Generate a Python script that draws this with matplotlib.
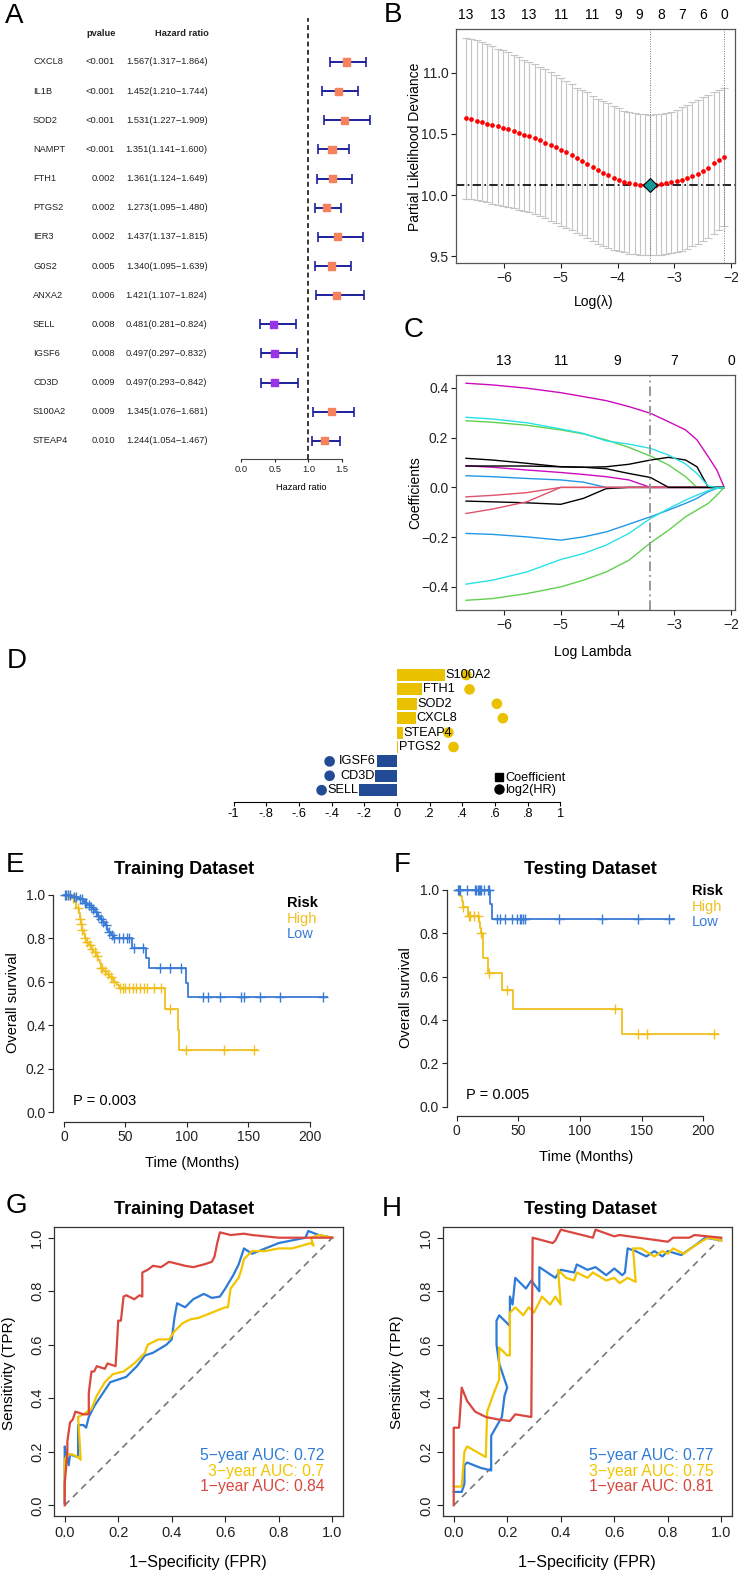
import numpy as np
import matplotlib
matplotlib.use("Agg")
import matplotlib.pyplot as plt
import matplotlib.transforms as mtransforms
from matplotlib.lines import Line2D

W, H = 738, 1574
plt.rcParams['font.family'] = ['Liberation Sans', 'DejaVu Sans']

# ---------------- data ----------------
# A: univariate cox
genes_a = ['CXCL8', 'IL1B', 'SOD2', 'NAMPT', 'FTH1', 'PTGS2', 'IER3', 'G0S2', 'ANXA2',
           'SELL', 'IGSF6', 'CD3D', 'S100A2', 'STEAP4']
pvals_a = ['<0.001', '<0.001', '<0.001', '<0.001', '0.002', '0.002', '0.002', '0.005',
           '0.006', '0.008', '0.008', '0.009', '0.009', '0.010']
hr_a = [1.567, 1.452, 1.531, 1.351, 1.361, 1.273, 1.437, 1.340, 1.421, 0.481, 0.497, 0.497, 1.345, 1.244]
hr_lo = [1.317, 1.210, 1.227, 1.141, 1.124, 1.095, 1.137, 1.095, 1.107, 0.281, 0.297, 0.293, 1.076, 1.054]
hr_hi = [1.864, 1.744, 1.909, 1.600, 1.649, 1.480, 1.815, 1.639, 1.824, 0.824, 0.832, 0.842, 1.681, 1.467]

# B: cv curve
log_lam = [-6.67, -6.58, -6.48, -6.39, -6.30, -6.21, -6.11, -6.02, -5.93, -5.83,
           -5.74, -5.65, -5.56, -5.46, -5.37, -5.28, -5.18, -5.09, -5.00, -4.91,
           -4.81, -4.72, -4.63, -4.53, -4.44, -4.35, -4.26, -4.16, -4.07, -3.98,
           -3.88, -3.79, -3.70, -3.61, -3.51, -3.42, -3.33, -3.23, -3.14, -3.05,
           -2.95, -2.86, -2.77, -2.68, -2.58, -2.49, -2.40, -2.30, -2.21, -2.12]
cv_mean = [10.63, 10.62, 10.61, 10.60, 10.585, 10.575, 10.565, 10.55, 10.54, 10.525,
           10.51, 10.495, 10.48, 10.465, 10.447, 10.43, 10.41, 10.39, 10.37, 10.35,
           10.33, 10.305, 10.28, 10.255, 10.23, 10.205, 10.18, 10.16, 10.14, 10.12,
           10.105, 10.095, 10.088, 10.083, 10.08, 10.079, 10.081, 10.087, 10.095, 10.105,
           10.115, 10.127, 10.14, 10.155, 10.172, 10.195, 10.225, 10.26, 10.29, 10.315]
cv_up = [11.29, 11.28, 11.27, 11.25, 11.24, 11.22, 11.20, 11.19, 11.17, 11.15,
         11.13, 11.11, 11.09, 11.07, 11.05, 11.03, 11.01, 10.98, 10.96, 10.93,
         10.91, 10.88, 10.86, 10.84, 10.81, 10.79, 10.77, 10.75, 10.73, 10.71,
         10.69, 10.68, 10.67, 10.66, 10.66, 10.656, 10.66, 10.66, 10.67, 10.68,
         10.70, 10.72, 10.74, 10.76, 10.78, 10.80, 10.82, 10.84, 10.86, 10.88]
cv_lo = [9.97, 9.965, 9.96, 9.95, 9.94, 9.93, 9.92, 9.91, 9.90, 9.89,
         9.88, 9.87, 9.86, 9.845, 9.83, 9.81, 9.79, 9.77, 9.75, 9.73,
         9.71, 9.69, 9.67, 9.65, 9.62, 9.60, 9.58, 9.565, 9.55, 9.54,
         9.53, 9.52, 9.515, 9.51, 9.507, 9.505, 9.507, 9.51, 9.515, 9.522,
         9.53, 9.545, 9.56, 9.58, 9.60, 9.62, 9.65, 9.68, 9.71, 9.745]
lam_min = -3.42
lam_1se = -2.12
b_top_pos = [-6.67, -6.11, -5.56, -5.00, -4.44, -3.98, -3.61, -3.23, -2.86, -2.49, -2.12]
b_top_lab = ['13', '13', '13', '11', '11', '9', '9', '8', '7', '6', '0']

# C: coefficient paths (shared log-lambda grid)
c_grid = [-6.67, -6.2, -5.6, -5.0, -4.6, -4.2, -3.8, -3.42, -3.1, -2.8, -2.6, -2.4, -2.25, -2.12]
path_magenta1 = [0.419, 0.412, 0.399, 0.381, 0.365, 0.349, 0.325, 0.298, 0.264, 0.231, 0.191, 0.123, 0.070, 0.0]
path_cyan1 = [0.282, 0.275, 0.260, 0.235, 0.217, 0.187, 0.174, 0.157, 0.130, 0.094, 0.056, 0.005, 0.0, 0.0]
path_green1 = [0.268, 0.262, 0.250, 0.231, 0.215, 0.191, 0.161, 0.126, 0.090, 0.043, 0.0, 0.0, 0.0, 0.0]
path_black1 = [0.117, 0.110, 0.097, 0.083, 0.081, 0.083, 0.093, 0.110, 0.121, 0.110, 0.083, 0.0, 0.0, 0.0]
path_black2 = [0.086, 0.086, 0.086, 0.083, 0.081, 0.075, 0.056, 0.040, 0.0, 0.0, 0.0, 0.0, 0.0, 0.0]
path_magenta2 = [0.087, 0.081, 0.070, 0.060, 0.052, 0.043, 0.030, 0.0, 0.0, 0.0, 0.0, 0.0, 0.0, 0.0]
path_blue1 = [0.047, 0.043, 0.036, 0.030, 0.021, 0.0, 0.0, 0.0, 0.0, 0.0, 0.0, 0.0, 0.0, 0.0]
path_red1 = [-0.038, -0.032, -0.021, 0.0, 0.0, 0.0, 0.0, 0.0, 0.0, 0.0, 0.0, 0.0, 0.0, 0.0]
path_red2 = [-0.105, -0.087, -0.058, 0.0, 0.0, 0.0, 0.0, 0.0, 0.0, 0.0, 0.0, 0.0, 0.0, 0.0]
path_black3 = [-0.055, -0.058, -0.062, -0.068, -0.044, -0.005, 0.0, 0.0, 0.0, 0.0, 0.0, 0.0, 0.0, 0.0]
path_blue2 = [-0.185, -0.189, -0.199, -0.212, -0.199, -0.179, -0.148, -0.118, -0.091, -0.064, -0.044, -0.017, -0.004, 0.0]
path_cyan2 = [-0.389, -0.373, -0.340, -0.290, -0.266, -0.232, -0.185, -0.125, -0.085, -0.051, -0.031, -0.013, -0.004, 0.0]
path_green2 = [-0.454, -0.447, -0.427, -0.400, -0.373, -0.340, -0.293, -0.223, -0.172, -0.118, -0.091, -0.064, -0.031, 0.0]
c_top_pos = [-6, -5, -4, -3, -2]
c_top_lab = ['13', '11', '9', '7', '0']

# D: coefficients vs log2(HR)
d_genes = ['S100A2', 'FTH1', 'SOD2', 'CXCL8', 'STEAP4', 'PTGS2', 'IGSF6', 'CD3D', 'SELL']
d_coef = [0.294, 0.156, 0.124, 0.115, 0.037, 0.009, -0.124, -0.133, -0.231]
d_log2hr = [0.424, 0.444, 0.611, 0.648, 0.314, 0.346, -0.412, -0.412, -0.461]
d_ticks = [-1, -0.8, -0.6, -0.4, -0.2, 0, 0.2, 0.4, 0.6, 0.8, 1]
d_ticklabels = ['-1', '-.8', '-.6', '-.4', '-.2', '0', '.2', '.4', '.6', '.8', '1']

# E/F: Kaplan-Meier (event times, survival after event, censor times)
tr_high_t = [5, 8, 10, 12, 13, 14, 15, 16, 17, 18, 20, 22, 24, 26, 28, 29, 30, 32, 34, 37, 40, 43, 45, 82, 93, 94]
tr_high_s = [0.985, 0.97, 0.94, 0.915, 0.89, 0.865, 0.84, 0.82, 0.80, 0.785, 0.77, 0.75, 0.735, 0.72,
             0.70, 0.685, 0.665, 0.65, 0.635, 0.62, 0.60, 0.585, 0.57, 0.475, 0.38, 0.285]
tr_high_c = [3, 7, 11, 13, 14, 15, 17, 19, 21, 23, 25, 27, 30, 31, 33, 36, 38, 41, 46, 48, 50, 53,
             56, 59, 62, 65, 68, 73, 79, 86, 99, 130, 155]
tr_high_end = 157
tr_low_t = [6, 12, 16, 19, 21, 23, 25, 27, 29, 31, 33, 35, 36, 38, 40, 55, 67, 69, 99, 101]
tr_low_s = [0.99, 0.98, 0.965, 0.955, 0.945, 0.935, 0.92, 0.905, 0.89, 0.875, 0.86, 0.845, 0.83,
            0.815, 0.80, 0.755, 0.71, 0.663, 0.594, 0.529]
tr_low_c = [1, 2, 3, 5, 8, 10, 13, 15, 17, 18, 20, 22, 24, 26, 28, 30, 32, 34, 37, 39, 41, 45, 48,
            51, 53, 57, 64, 78, 86, 95, 113, 117, 127, 144, 147, 160, 176, 211]
tr_low_end = 214
te_high_t = [3, 4, 5, 9, 18, 19, 20, 21, 25, 37, 46, 134]
te_high_s = [0.97, 0.95, 0.92, 0.88, 0.85, 0.823, 0.80, 0.688, 0.618, 0.54, 0.449, 0.337]
te_high_c = [2, 5, 10, 11, 14, 17, 20, 26, 41, 128, 147, 154, 209]
te_high_end = 212
te_low_t = [27, 29]
te_low_s = [0.933, 0.866]
te_low_c = [1, 2, 3, 8, 15, 16, 17, 18, 19, 20, 22, 25, 26, 33, 35, 39, 45, 49, 51, 52, 54, 55,
            83, 118, 147, 172]
te_low_end = 176

# G/H: ROC curves
roc_tr5_fpr = [0, 0, 0.005, 0.015, 0.02, 0.05, 0.05, 0.07, 0.08, 0.09, 0.11, 0.13, 0.15, 0.17, 0.2,
               0.23, 0.27, 0.3, 0.33, 0.38, 0.4, 0.41, 0.42, 0.45, 0.48, 0.52, 0.55, 0.58, 0.6, 0.63,
               0.65, 0.67, 0.7, 0.75, 0.8, 0.85, 0.9, 0.91, 0.95, 1.0]
roc_tr5_tpr = [0.01, 0.22, 0.2, 0.15, 0.19, 0.18, 0.3, 0.3, 0.29, 0.33, 0.37, 0.4, 0.43, 0.46, 0.47,
               0.48, 0.52, 0.56, 0.57, 0.6, 0.62, 0.7, 0.755, 0.74, 0.77, 0.79, 0.775, 0.78, 0.81, 0.86,
               0.9, 0.96, 0.94, 0.96, 0.98, 0.99, 1.0, 1.025, 1.01, 1.0]
roc_tr3_fpr = [0, 0, 0.01, 0.03, 0.05, 0.06, 0.05, 0.07, 0.1, 0.12, 0.15, 0.18, 0.22, 0.26, 0.29,
               0.3, 0.31, 0.35, 0.39, 0.41, 0.44, 0.47, 0.5, 0.55, 0.6, 0.61, 0.62, 0.65, 0.66, 0.67,
               0.7, 0.75, 0.8, 0.85, 0.92, 0.93, 0.92, 0.95, 1.0]
roc_tr3_tpr = [0.02, 0.17, 0.19, 0.19, 0.18, 0.17, 0.33, 0.34, 0.36, 0.41, 0.46, 0.49, 0.5, 0.53, 0.56,
               0.57, 0.6, 0.62, 0.62, 0.65, 0.68, 0.695, 0.7, 0.72, 0.74, 0.74, 0.81, 0.85, 0.88, 0.92,
               0.95, 0.95, 0.96, 0.96, 0.98, 0.97, 1.0, 1.01, 1.0]
roc_tr1_fpr = [0, 0, 0.01, 0.01, 0.02, 0.03, 0.04, 0.07, 0.09, 0.09, 0.1, 0.11, 0.12, 0.15, 0.16,
               0.19, 0.195, 0.2, 0.21, 0.22, 0.23, 0.26, 0.28, 0.29, 0.29, 0.31, 0.33, 0.36, 0.39, 0.45,
               0.48, 0.52, 0.55, 0.56, 0.57, 0.58, 0.62, 0.67, 0.7, 0.8, 0.9, 1.0]
roc_tr1_tpr = [0, 0.08, 0.2, 0.24, 0.31, 0.32, 0.35, 0.34, 0.34, 0.42, 0.5, 0.5, 0.52, 0.51, 0.53,
               0.52, 0.6, 0.69, 0.69, 0.78, 0.785, 0.77, 0.785, 0.78, 0.87, 0.88, 0.895, 0.89, 0.91, 0.895,
               0.89, 0.9, 0.91, 0.93, 0.98, 1.02, 1.01, 1.015, 1.01, 1.0, 1.0, 1.0]
roc_te5_fpr = [0, 0.03, 0.04, 0.04, 0.05, 0.1, 0.14, 0.14, 0.18, 0.19, 0.2, 0.19, 0.17, 0.16, 0.16,
               0.17, 0.21, 0.21, 0.22, 0.23, 0.27, 0.29, 0.32, 0.32, 0.38, 0.4, 0.45, 0.46, 0.5, 0.53,
               0.57, 0.6, 0.63, 0.64, 0.65, 0.68, 0.72, 0.75, 0.78, 0.8, 0.85, 0.9, 0.94, 1.0]
roc_te5_tpr = [0.05, 0.05, 0.08, 0.15, 0.16, 0.14, 0.13, 0.26, 0.33, 0.41, 0.44, 0.47, 0.53, 0.6, 0.69,
               0.71, 0.67, 0.78, 0.75, 0.85, 0.81, 0.84, 0.8, 0.89, 0.85, 0.88, 0.87, 0.9, 0.88, 0.89,
               0.86, 0.885, 0.86, 0.87, 0.96, 0.95, 0.93, 0.95, 0.93, 0.95, 0.935, 0.97, 1.0, 0.99]
roc_te3_fpr = [0, 0.03, 0.04, 0.05, 0.12, 0.125, 0.15, 0.17, 0.17, 0.2, 0.21, 0.21, 0.23, 0.26, 0.28,
               0.3, 0.33, 0.36, 0.38, 0.4, 0.39, 0.42, 0.45, 0.46, 0.5, 0.52, 0.57, 0.6, 0.62, 0.65,
               0.68, 0.67, 0.7, 0.75, 0.78, 0.8, 0.82, 0.86, 0.9, 0.95, 1.0]
roc_te3_tpr = [0.07, 0.07, 0.2, 0.22, 0.18, 0.35, 0.42, 0.47, 0.59, 0.56, 0.56, 0.72, 0.74, 0.71, 0.74,
               0.72, 0.78, 0.75, 0.78, 0.75, 0.88, 0.85, 0.84, 0.87, 0.85, 0.87, 0.84, 0.85, 0.83, 0.85,
               0.835, 0.96, 0.96, 0.93, 0.95, 0.94, 0.96, 0.94, 0.97, 1.0, 0.99]
roc_te1_fpr = [0, 0, 0.02, 0.03, 0.05, 0.08, 0.12, 0.17, 0.21, 0.23, 0.29, 0.295, 0.37, 0.38, 0.4,
               0.52, 0.53, 0.6, 0.62, 0.8, 0.82, 0.88, 0.9, 1.0]
roc_te1_tpr = [0, 0.29, 0.29, 0.44, 0.39, 0.35, 0.33, 0.32, 0.315, 0.34, 0.33, 1.0, 0.98, 0.99, 1.03,
               1.0, 1.03, 1.005, 1.01, 0.985, 1.0, 1.0, 1.01, 1.0]
auc_train = ['5\u2212year AUC: 0.72', '3\u2212year AUC: 0.7', '1\u2212year AUC: 0.84']
auc_test = ['5\u2212year AUC: 0.77', '3\u2212year AUC: 0.75', '1\u2212year AUC: 0.81']

# ---------------- helpers ----------------
fig = plt.figure(figsize=(W / 100, H / 100), dpi=100)


def px_axes(left, top, right, bottom):
    ax = fig.add_axes([left / W, 1 - bottom / H, (right - left) / W, (bottom - top) / H])
    ax.patch.set_alpha(0)
    return ax


def ftext(x, y, s, **kw):
    return fig.text(x / W, 1 - y / H, s, **kw)


def letter(x, y, s):
    ftext(x, y, s, fontsize=20, va='baseline', ha='left')


GOLD = '#F0C020'
BLUE_KM = '#3A7BD5'
R_COLS = {'black': '#000000', 'red': '#DF536B', 'green': '#61D04F', 'blue': '#2297E6',
          'cyan': '#28E2E5', 'magenta': '#CD0BBC'}

# ---------------- A ----------------
ax_a = px_axes(230, 18, 372, 459)
rows_a = np.arange(len(genes_a))
ax_a.set_xlim(-0.1634, 1.9457)
ax_a.set_ylim(13.62, -1.509)
hr = np.array(hr_a)
ax_a.errorbar(hr, rows_a, xerr=[hr - np.array(hr_lo), np.array(hr_hi) - hr], fmt='none',
              ecolor='#1C1F9C', elinewidth=1.4, capsize=3.6, capthick=1.2, clip_on=False)
cols_a = ['#F5825C' if v > 1 else '#9A35E6' for v in hr_a]
ax_a.scatter(hr, rows_a, marker='s', s=26, c=cols_a, zorder=3, clip_on=False)
ax_a.axvline(1.0, color='black', ls=(0, (3.2, 2.2)), lw=1.1)
for sp in ['left', 'right', 'top']:
    ax_a.spines[sp].set_visible(False)
ax_a.spines['bottom'].set_bounds(0, 1.5)
ax_a.spines['bottom'].set_color('#444444')
ax_a.spines['bottom'].set_linewidth(0.8)
ax_a.set_yticks([])
ax_a.set_xticks([0, 0.5, 1.0, 1.5])
ax_a.set_xticklabels(['0.0', '0.5', '1.0', '1.5'], fontsize=6.7)
ax_a.tick_params(axis='x', length=2.5, width=0.8, pad=1.5, colors='#222222')
ax_a.set_xlabel('Hazard ratio', fontsize=6.7, labelpad=7)
tr_a = mtransforms.blended_transform_factory(fig.transFigure, ax_a.transData)
for i, g in enumerate(genes_a):
    ax_a.text(33 / W, i, g, transform=tr_a, fontsize=6.7, ha='left', va='center', color='#222222')
    ax_a.text(115 / W, i, pvals_a[i], transform=tr_a, fontsize=6.7, ha='right', va='center', color='#222222')
    ax_a.text(207.5 / W, i, '%.3f(%.3f\u2212%.3f)' % (hr_a[i], hr_lo[i], hr_hi[i]), transform=tr_a,
              fontsize=6.7, ha='right', va='center', color='#222222')
ftext(101, 33, 'pvalue', fontsize=6.7, ha='center', va='center', fontweight='bold', color='#222222')
ftext(182, 33, 'Hazard ratio', fontsize=6.7, ha='center', va='center', fontweight='bold', color='#222222')
letter(5, 23, 'A')

# ---------------- B ----------------
ax_b = px_axes(456, 29, 735, 263)
ax_b.set_xlim(-6.846, -1.93)
ax_b.set_ylim(9.443, 11.36)
cm = np.array(cv_mean)
ax_b.errorbar(log_lam, cm, yerr=[cm - np.array(cv_lo), np.array(cv_up) - cm], fmt='none',
              ecolor='#C4C4C4', elinewidth=0.8, capsize=2.6, capthick=0.8)
ax_b.axhline(min(cv_mean), color='black', lw=1.2, ls=(0, (5, 2, 1, 2)))
ax_b.axvline(lam_min, color='#777777', lw=0.7, ls=(0, (1, 1.5)))
ax_b.axvline(lam_1se, color='#777777', lw=0.7, ls=(0, (1, 1.5)))
ax_b.plot(log_lam, cm, 'o', color='red', ms=3.4, mew=0, zorder=4)
ax_b.plot([lam_min], [min(cv_mean)], 'D', color='#159A9C', mec='black', mew=0.8, ms=7, zorder=5)
ax_b.set_xticks([-6, -5, -4, -3, -2])
ax_b.set_yticks([9.5, 10.0, 10.5, 11.0])
ax_b.set_yticklabels(['9.5', '10.0', '10.5', '11.0'])
ax_b.tick_params(labelsize=10, length=3.5, width=0.8, pad=2, colors='#222222')
for sp in ax_b.spines.values():
    sp.set_color('#555555')
    sp.set_linewidth(0.9)
sec_b = ax_b.secondary_xaxis('top')
sec_b.set_xticks(b_top_pos)
sec_b.set_xticklabels(b_top_lab)
sec_b.tick_params(length=0, labelsize=10, pad=5)
sec_b.spines['top'].set_visible(False)
ftext(415, 147, 'Partial Likelihood Deviance', fontsize=10, rotation=90, ha='center', va='center')
ftext(594, 302, 'Log(\u03bb)', fontsize=10, ha='center', va='center')
letter(384, 22, 'B')

# ---------------- C ----------------
ax_c = px_axes(456, 375, 735, 610)
ax_c.set_xlim(-6.846, -1.93)
ax_c.set_ylim(-0.493, 0.452)
for path, col in [(path_blue1, 'blue'), (path_black3, 'black'), (path_magenta2, 'magenta'),
                  (path_green1, 'green'), (path_red1, 'red'), (path_red2, 'red'),
                  (path_black2, 'black'), (path_black1, 'black'), (path_cyan1, 'cyan'),
                  (path_magenta1, 'magenta'), (path_blue2, 'blue'), (path_cyan2, 'cyan'),
                  (path_green2, 'green')]:
    ax_c.plot(c_grid, path, color=R_COLS[col], lw=1.0)
ax_c.axvline(lam_min, color='#999999', lw=1.4, ls=(0, (5, 2, 1, 2)))
ax_c.set_xticks([-6, -5, -4, -3, -2])
ax_c.set_yticks([-0.4, -0.2, 0.0, 0.2, 0.4])
ax_c.tick_params(labelsize=10, length=3.5, width=0.8, pad=2, colors='#222222')
for sp in ax_c.spines.values():
    sp.set_color('#555555')
    sp.set_linewidth(0.9)
sec_c = ax_c.secondary_xaxis('top')
sec_c.set_xticks(c_top_pos)
sec_c.set_xticklabels(c_top_lab)
sec_c.tick_params(length=0, labelsize=10, pad=5)
sec_c.spines['top'].set_visible(False)
ftext(415, 493, 'Coefficients', fontsize=10, rotation=90, ha='center', va='center')
ftext(593, 652, 'Log Lambda', fontsize=10, ha='center', va='center')
letter(404, 337, 'C')

# ---------------- D ----------------
ax_d = px_axes(225, 665, 600, 802)
rows_d = np.arange(len(d_genes))
ax_d.set_xlim(-1.052, 1.242)
ax_d.set_ylim(8.82, -0.694)
DGOLD = '#E9C100'
DBLUE = '#234A94'
cols_d = [DGOLD if c > 0 else DBLUE for c in d_coef]
ax_d.barh(rows_d, d_coef, height=0.84, color=cols_d)
ax_d.scatter(d_log2hr, rows_d, s=44, c=cols_d, zorder=3)
for i, g in enumerate(d_genes):
    if d_coef[i] > 0:
        ax_d.text(d_coef[i] + 0.004, i, g, ha='left', va='center', fontsize=9.2, zorder=4)
    else:
        ax_d.text(d_coef[i] - 0.004, i, g, ha='right', va='center', fontsize=9.2, zorder=4)
for sp in ['left', 'right', 'top']:
    ax_d.spines[sp].set_visible(False)
ax_d.spines['bottom'].set_bounds(-1, 1)
ax_d.spines['bottom'].set_linewidth(0.8)
ax_d.set_yticks([])
ax_d.set_xticks(d_ticks)
ax_d.set_xticklabels(d_ticklabels, fontsize=9.2)
ax_d.tick_params(axis='x', length=3.2, width=0.8, pad=1)
leg_d = ax_d.legend(handles=[Line2D([], [], marker='s', color='black', ls='none', ms=6),
                             Line2D([], [], marker='o', color='black', ls='none', ms=6.5)],
                    labels=['Coefficient', 'log2(HR)'], frameon=False, loc='upper left',
                    bbox_to_anchor=(487 / W, 1 - 766 / H), bbox_transform=fig.transFigure,
                    handlelength=0.8, handletextpad=0.15, labelspacing=0.0, borderpad=0,
                    prop={'size': 9.2})
letter(7, 668, 'D')


# ---------------- E / F ----------------
def km_line(ax, times, surv, cens, end, color):
    t = [0] + list(times) + [end]
    s = [1.0] + list(surv) + [surv[-1]]
    ax.step(t, s, where='post', color=color, lw=1.3)
    s_all = np.array([1.0] + list(surv))
    idx = np.searchsorted(np.array(times), np.array(cens), side='right')
    ax.plot(cens, s_all[idx], '+', color=color, ms=7, mew=1.0)


def km_panel(box, xlim, ylim, title_xy, title, high, low, pval_xy, pval, leg_xy):
    ax = px_axes(*box)
    ax.set_xlim(*xlim)
    ax.set_ylim(*ylim)
    km_line(ax, *high, GOLD)
    km_line(ax, *low, BLUE_KM)
    for sp in ['right', 'top']:
        ax.spines[sp].set_visible(False)
    ax.spines['left'].set_bounds(0, 1)
    ax.spines['bottom'].set_bounds(0, 200)
    for sp in ['left', 'bottom']:
        ax.spines[sp].set_linewidth(0.9)
        ax.spines[sp].set_color('#333333')
    ax.set_xticks([0, 50, 100, 150, 200])
    ax.set_yticks([0, 0.2, 0.4, 0.6, 0.8, 1.0])
    ax.set_yticklabels(['0.0', '0.2', '0.4', '0.6', '0.8', '1.0'])
    ax.tick_params(labelsize=10, length=3.5, width=0.8, pad=2, colors='#222222')
    ftext(title_xy[0], title_xy[1], title, fontsize=13, fontweight='bold', ha='center', va='baseline')
    ftext(pval_xy[0], pval_xy[1], pval, fontsize=10.5, ha='left', va='baseline')
    ftext(leg_xy[0], leg_xy[1], 'Risk', fontsize=10.5, fontweight='bold', ha='left', va='baseline')
    ftext(leg_xy[0], leg_xy[1] + 15.5, 'High', fontsize=10.5, color=GOLD, ha='left', va='baseline')
    ftext(leg_xy[0], leg_xy[1] + 31, 'Low', fontsize=10.5, color=BLUE_KM, ha='left', va='baseline')
    return ax


km_panel((53, 885, 330, 1122), (-8.96, 216.7), (-0.046, 1.046), (184, 874), 'Training Dataset',
         (tr_high_t, tr_high_s, tr_high_c, tr_high_end), (tr_low_t, tr_low_s, tr_low_c, tr_low_end),
         (73, 1105), 'P = 0.003', (287, 907))
ftext(192, 1163, 'Time (Months)', fontsize=10.5, ha='center', va='center')
ftext(13, 1003, 'Overall survival', fontsize=10.5, rotation=90, ha='center', va='center')
letter(6, 872, 'E')

km_panel((446.7, 880, 725, 1116), (-8.1, 217.6), (-0.043, 1.046), (590, 874), 'Testing Dataset',
         (te_high_t, te_high_s, te_high_c, te_high_end), (te_low_t, te_low_s, te_low_c, te_low_end),
         (466, 1099), 'P = 0.005', (692, 895))
ftext(586, 1157, 'Time (Months)', fontsize=10.5, ha='center', va='center')
ftext(406, 998, 'Overall survival', fontsize=10.5, rotation=90, ha='center', va='center')
letter(394, 872, 'F')


# ---------------- G / H ----------------
def roc_panel(box, curves, labels, text_x, title_x, title):
    ax = px_axes(*box)
    ax.set_xlim(-0.04, 1.04)
    ax.set_ylim(-0.04, 1.04)
    ax.plot([0, 1], [0, 1], color='#777777', lw=1.2, ls=(0, (4, 3)))
    cols = ['#2E7BD6', '#F2C500', '#D9473F']
    for (fx, ty), col in zip(curves, cols):
        ax.plot(fx, ty, color=col, lw=1.6)
    ticks = [0, 0.2, 0.4, 0.6, 0.8, 1.0]
    tl = ['0.0', '0.2', '0.4', '0.6', '0.8', '1.0']
    ax.set_xticks(ticks)
    ax.set_xticklabels(tl)
    ax.set_yticks(ticks)
    ax.set_yticklabels(tl, rotation=90, va='center')
    ax.tick_params(labelsize=10.5, length=4, width=0.8, pad=3, colors='#222222')
    for sp in ax.spines.values():
        sp.set_color('#333333')
        sp.set_linewidth(0.9)
    for k, (lab, col) in enumerate(zip(labels, cols)):
        ax.text(text_x, 0.185 - k * 0.058, lab, color=col, fontsize=11.3, ha='right', va='center')
    ftext(title_x, 1214, title, fontsize=13, fontweight='bold', ha='center', va='baseline')
    return ax


roc_panel((54, 1227, 343, 1516),
          [(roc_tr5_fpr, roc_tr5_tpr), (roc_tr3_fpr, roc_tr3_tpr), (roc_tr1_fpr, roc_tr1_tpr)],
          auc_train, 0.97, 184, 'Training Dataset')
ftext(198, 1562, '1\u2212Specificity (FPR)', fontsize=11.5, ha='center', va='center')
ftext(9, 1373, 'Sensitivity (TPR)', fontsize=11, rotation=90, ha='center', va='center')
letter(6, 1213, 'G')

roc_panel((443, 1227, 732, 1516),
          [(roc_te5_fpr, roc_te5_tpr), (roc_te3_fpr, roc_te3_tpr), (roc_te1_fpr, roc_te1_tpr)],
          auc_test, 0.97, 590, 'Testing Dataset')
ftext(587, 1562, '1\u2212Specificity (FPR)', fontsize=11.5, ha='center', va='center')
ftext(397, 1372, 'Sensitivity (TPR)', fontsize=11, rotation=90, ha='center', va='center')
letter(382, 1216, 'H')

fig.savefig('out.png', dpi=100, facecolor='white')
